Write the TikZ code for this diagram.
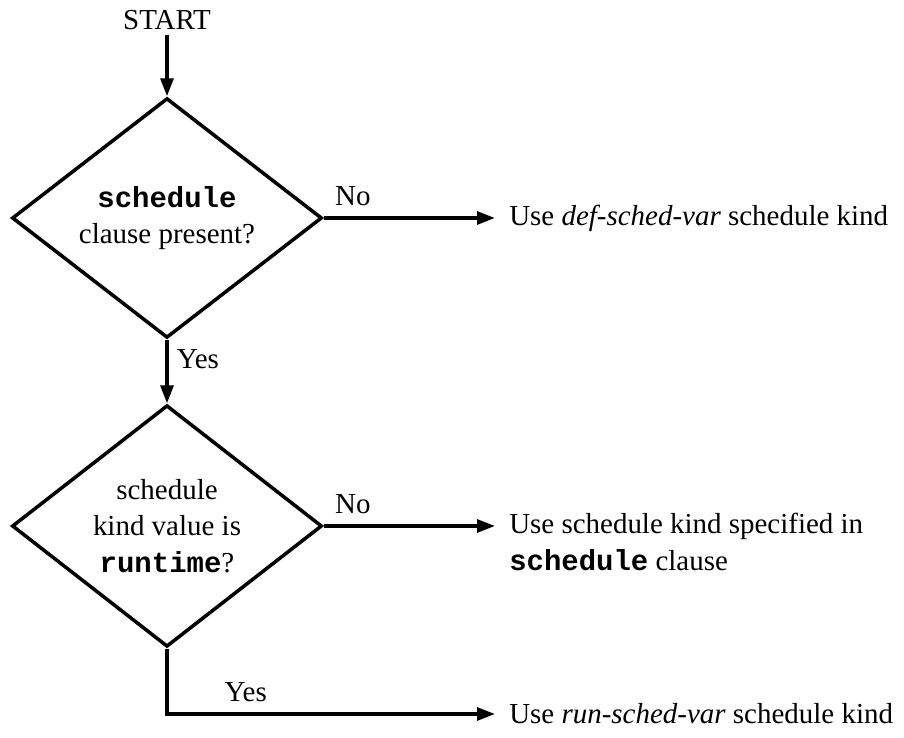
\documentclass[tikz,border=0pt]{standalone}
\usepackage{fontspec}
\setmainfont{Liberation Serif}
\setmonofont{Liberation Mono}
\usetikzlibrary{shapes.geometric,arrows.meta,positioning}

\tikzset{
  decision/.style={diamond,draw,line width=2.5pt,inner sep=0pt,minimum width=7.75cm,minimum height=5.5cm,align=center},
  flow/.style={line width=2.5pt,-{Triangle[length=0.45cm,width=0.32cm]}},
  lbl/.style={inner sep=0pt},
  answer/.style={inner xsep=0.35cm,inner ysep=0pt,align=left},
}

\begin{document}
\begin{tikzpicture}[every node/.style={font=\fontsize{20.6pt}{26pt}\selectfont}]
            \useasboundingbox (0,0) rectangle (22.6,18.45);
            \node (start) at (4.175,17.95) {START};
            \node[decision] (q1) at (4.175,13.0) {\textbf{\texttt{schedule}}\\clause present?};
            \node[decision] (q2) at (4.175,5.3) {schedule\\kind value is\\\textbf{\texttt{runtime}}?};
            \node[answer,anchor=west] (def) at (12.375,13.0) {Use \textit{def-sched-var} schedule kind};
            \node[answer,anchor=north west] (spec) at (12.375,5.62) {Use schedule kind specified in\\\textbf{\texttt{schedule}} clause};
            \node[answer,anchor=west] (run) at (12.375,0.6) {Use \textit{run-sched-var} schedule kind};
            \coordinate (bend) at (4.175,0.6);

            \draw[flow] (start) -- (q1);
            \draw[flow] (q1) -- node[lbl,pos=0.3,right=0.2cm] {Yes} (q2);
            \draw[flow] (q1.east) -- node[lbl,pos=0.17,above=0.25cm] {No} (q1.east -| def.west);
            \draw[flow] (q2.east) -- node[lbl,pos=0.17,above=0.25cm] {No} (q2.east -| spec.west);
            \draw[flow] (q2.south) -- (bend) -- node[lbl,pos=0.24,above=0.25cm] {Yes} (run.west);
        \end{tikzpicture}
\end{document}
